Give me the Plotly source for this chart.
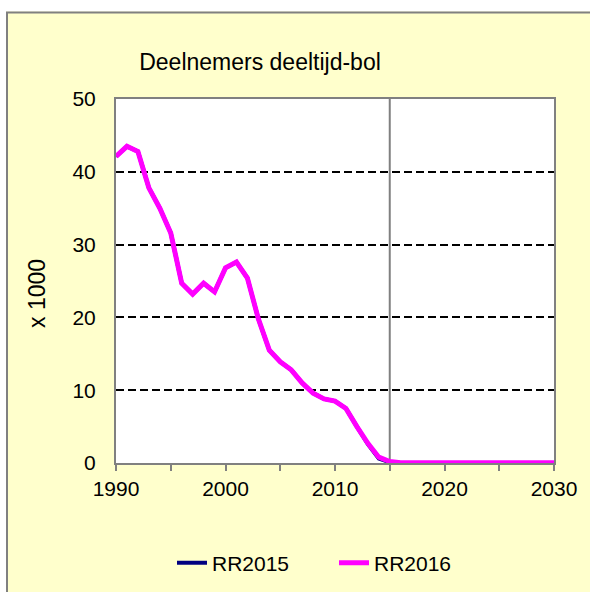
import plotly.graph_objects as go

years = list(range(1990, 2031))

rr2016 = [42.1, 43.5, 42.8, 37.8, 35.0, 31.6, 24.7, 23.2, 24.7, 23.5,
          26.8, 27.6, 25.4, 19.8, 15.5, 13.9, 12.8, 11.0, 9.6, 8.8,
          8.5, 7.5, 5.0, 2.7, 0.8, 0.2, 0.05, 0.05, 0.05, 0.05,
          0.05, 0.05, 0.05, 0.05, 0.05, 0.05, 0.05, 0.05, 0.05, 0.05, 0.05]
rr2015 = [42.1, 43.5, 42.8, 37.8, 35.0, 31.6, 24.7, 23.2, 24.7, 23.5,
          26.8, 27.6, 25.4, 19.8, 15.5, 13.9, 12.8, 11.0, 9.6, 8.8,
          8.5, 7.5, 5.0, 2.6, 0.6, 0.1, 0.0, 0.0, 0.0, 0.0,
          0.0, 0.0, 0.0, 0.0, 0.0, 0.0, 0.0, 0.0, 0.0, 0.0, 0.0]

W, H = 590, 592
L, R, T, B = 116, 554, 99, 463


def px(x):
    return (x - L) / (R - L)


def py(y):
    return (B - y) / (B - T)


FONT = "Liberation Sans, Arial, sans-serif"
YELLOW = "#FFFFCC"
GRAY = "#808080"

fig = go.Figure()
fig.add_trace(go.Scatter(x=years, y=rr2015, mode="lines", name="RR2015",
                         line=dict(color="#000080", width=4)))
fig.add_trace(go.Scatter(x=years, y=rr2016, mode="lines", name="RR2016",
                         line=dict(color="#FF00FF", width=5)))

# vertical divider at 2015
fig.add_shape(type="line", xref="x", yref="paper", x0=2015, x1=2015, y0=0, y1=1,
              line=dict(color=GRAY, width=2), layer="below")

# white margin strips + border of the chart box
fig.add_shape(type="rect", xref="paper", yref="paper",
              x0=px(-10), x1=px(600), y0=py(11.5), y1=py(-10),
              fillcolor="white", line_width=0, layer="below")
fig.add_shape(type="rect", xref="paper", yref="paper",
              x0=px(-10), x1=px(6), y0=py(600), y1=py(-10),
              fillcolor="white", line_width=0, layer="below")
fig.add_shape(type="rect", xref="paper", yref="paper",
              x0=px(7), x1=px(600), y0=py(600), y1=py(12.5),
              fillcolor="rgba(0,0,0,0)", line=dict(color=GRAY, width=2), layer="below")

fig.add_annotation(text="x 1000", xref="paper", yref="paper", x=px(37), y=py(294),
                   xanchor="center", yanchor="middle",
                   textangle=-90, showarrow=False, font=dict(size=23, color="black"))

fig.update_layout(
    width=W, height=H,
    margin=dict(l=L, r=W - R, t=T, b=H - B),
    paper_bgcolor=YELLOW, plot_bgcolor="white",
    font=dict(family=FONT, size=21, color="black"),
    title=dict(text="Deelnemers deeltijd-bol", xref="container", yref="container",
               x=260 / W, y=1 - 62 / H, xanchor="center", yanchor="middle",
               font=dict(size=23, color="black")),
    showlegend=True,
    legend=dict(orientation="h", xref="container", yref="container",
                x=172 / W, y=1 - 563 / H, xanchor="left", yanchor="middle",
                entrywidth=117, bgcolor="rgba(0,0,0,0)", font=dict(size=21)),
    xaxis=dict(range=[1990, 2030], tickvals=[1990, 2000, 2010, 2020, 2030],
               showgrid=False, zeroline=False, showline=True, mirror=True,
               linecolor=GRAY, linewidth=2, ticks="outside", ticklen=6,
               tickcolor=GRAY, tickwidth=2, ticklabelstandoff=0,
               minor=dict(dtick=5, ticks="outside", ticklen=6, tickcolor=GRAY,
                          tickwidth=2)),
    yaxis=dict(range=[0, 50], dtick=10, showgrid=True, gridcolor="black",
               gridwidth=2, griddash="8px,4px", zeroline=False, showline=True,
               mirror=True, linecolor=GRAY, linewidth=2, ticks="",
               ticklabelstandoff=14),
)

fig.write_html("out.html", config={"displayModeBar": False},
               post_script="document.body.style.margin='0';")
